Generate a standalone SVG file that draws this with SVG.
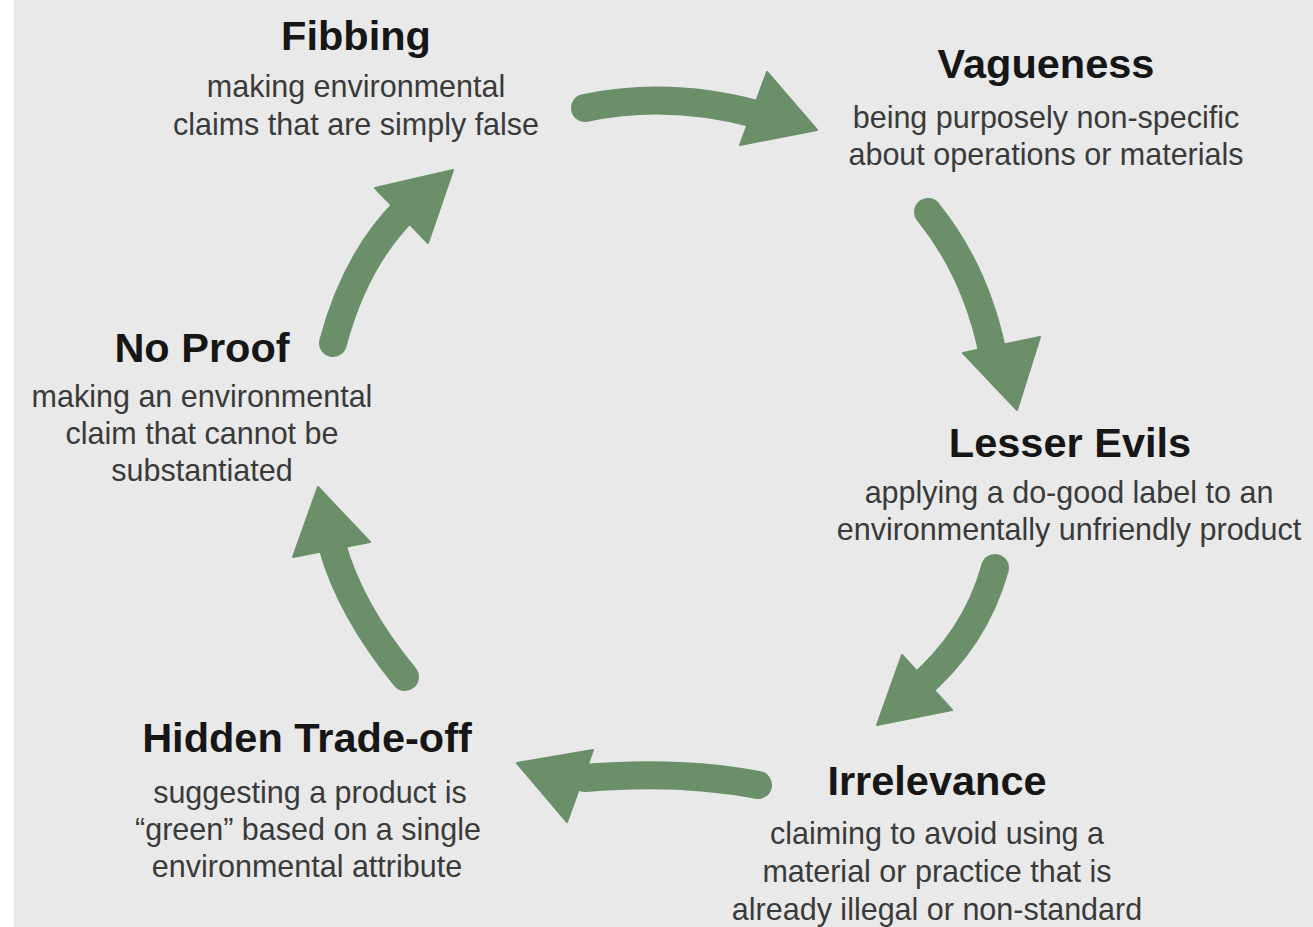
<svg xmlns="http://www.w3.org/2000/svg" width="1313" height="927" viewBox="0 0 1313 927">
<style>
.title{font-family:"Liberation Sans",Arial,sans-serif;font-weight:bold;font-size:41.5px;fill:#161616;text-anchor:middle}
.body{font-family:"Liberation Sans",Arial,sans-serif;font-size:30.5px;fill:#3a3a3a;text-anchor:middle}
.shaft{fill:none;stroke:#6a8f69;stroke-width:28;stroke-linecap:round}
.head{fill:#6a8f69;stroke:#6a8f69;stroke-width:2;stroke-linejoin:round}
</style>
<rect x="0" y="0" width="1313" height="927" fill="#ffffff"/>
<rect x="14" y="0" width="1299" height="927" fill="#e9e9e9"/>
<g id="connectors">
<path class="shaft" d="M585,108 Q670,90 760,115"/>
<polygon class="head" points="767,72 817,130 740,145"/>
<path class="shaft" d="M928,212 Q975,270 992,350"/>
<polygon class="head" points="963,353 1040,337 1017,410"/>
<path class="shaft" d="M995,568 Q975,640 915,690"/>
<polygon class="head" points="902,655 952,710 877,725"/>
<path class="shaft" d="M758,785 Q680,770 585,778"/>
<polygon class="head" points="593,750 517,763 567,822"/>
<path class="shaft" d="M405,677 Q350,610 332,545"/>
<polygon class="head" points="318,487 370,542 293,557"/>
<path class="shaft" d="M333,343 Q355,260 405,210"/>
<polygon class="head" points="375,188 453,170 428,243"/>
</g>
<g id="fibbing">
<text class="title" x="356" y="50">Fibbing</text>
<text class="body" x="356" y="97">making environmental</text>
<text class="body" x="356" y="135">claims that are simply false</text>
</g>
<g id="vagueness">
<text class="title" x="1046" y="78">Vagueness</text>
<text class="body" x="1046" y="128">being purposely non-specific</text>
<text class="body" x="1046" y="165">about operations or materials</text>
</g>
<g id="lesser-evils">
<text class="title" x="1070" y="457">Lesser Evils</text>
<text class="body" x="1069" y="503">applying a do-good label to an</text>
<text class="body" x="1069" y="540">environmentally unfriendly product</text>
</g>
<g id="irrelevance">
<text class="title" x="937" y="795">Irrelevance</text>
<text class="body" x="937" y="844">claiming to avoid using a</text>
<text class="body" x="937" y="882">material or practice that is</text>
<text class="body" x="937" y="920">already illegal or non-standard</text>
</g>
<g id="hidden-trade-off">
<text class="title" x="307" y="752">Hidden Trade-off</text>
<text class="body" x="310" y="803">suggesting a product is</text>
<text class="body" x="308" y="840">“green” based on a single</text>
<text class="body" x="307" y="877">environmental attribute</text>
</g>
<g id="no-proof">
<text class="title" x="202" y="362">No Proof</text>
<text class="body" x="202" y="407">making an environmental</text>
<text class="body" x="202" y="444">claim that cannot be</text>
<text class="body" x="202" y="481">substantiated</text>
</g>
</svg>
